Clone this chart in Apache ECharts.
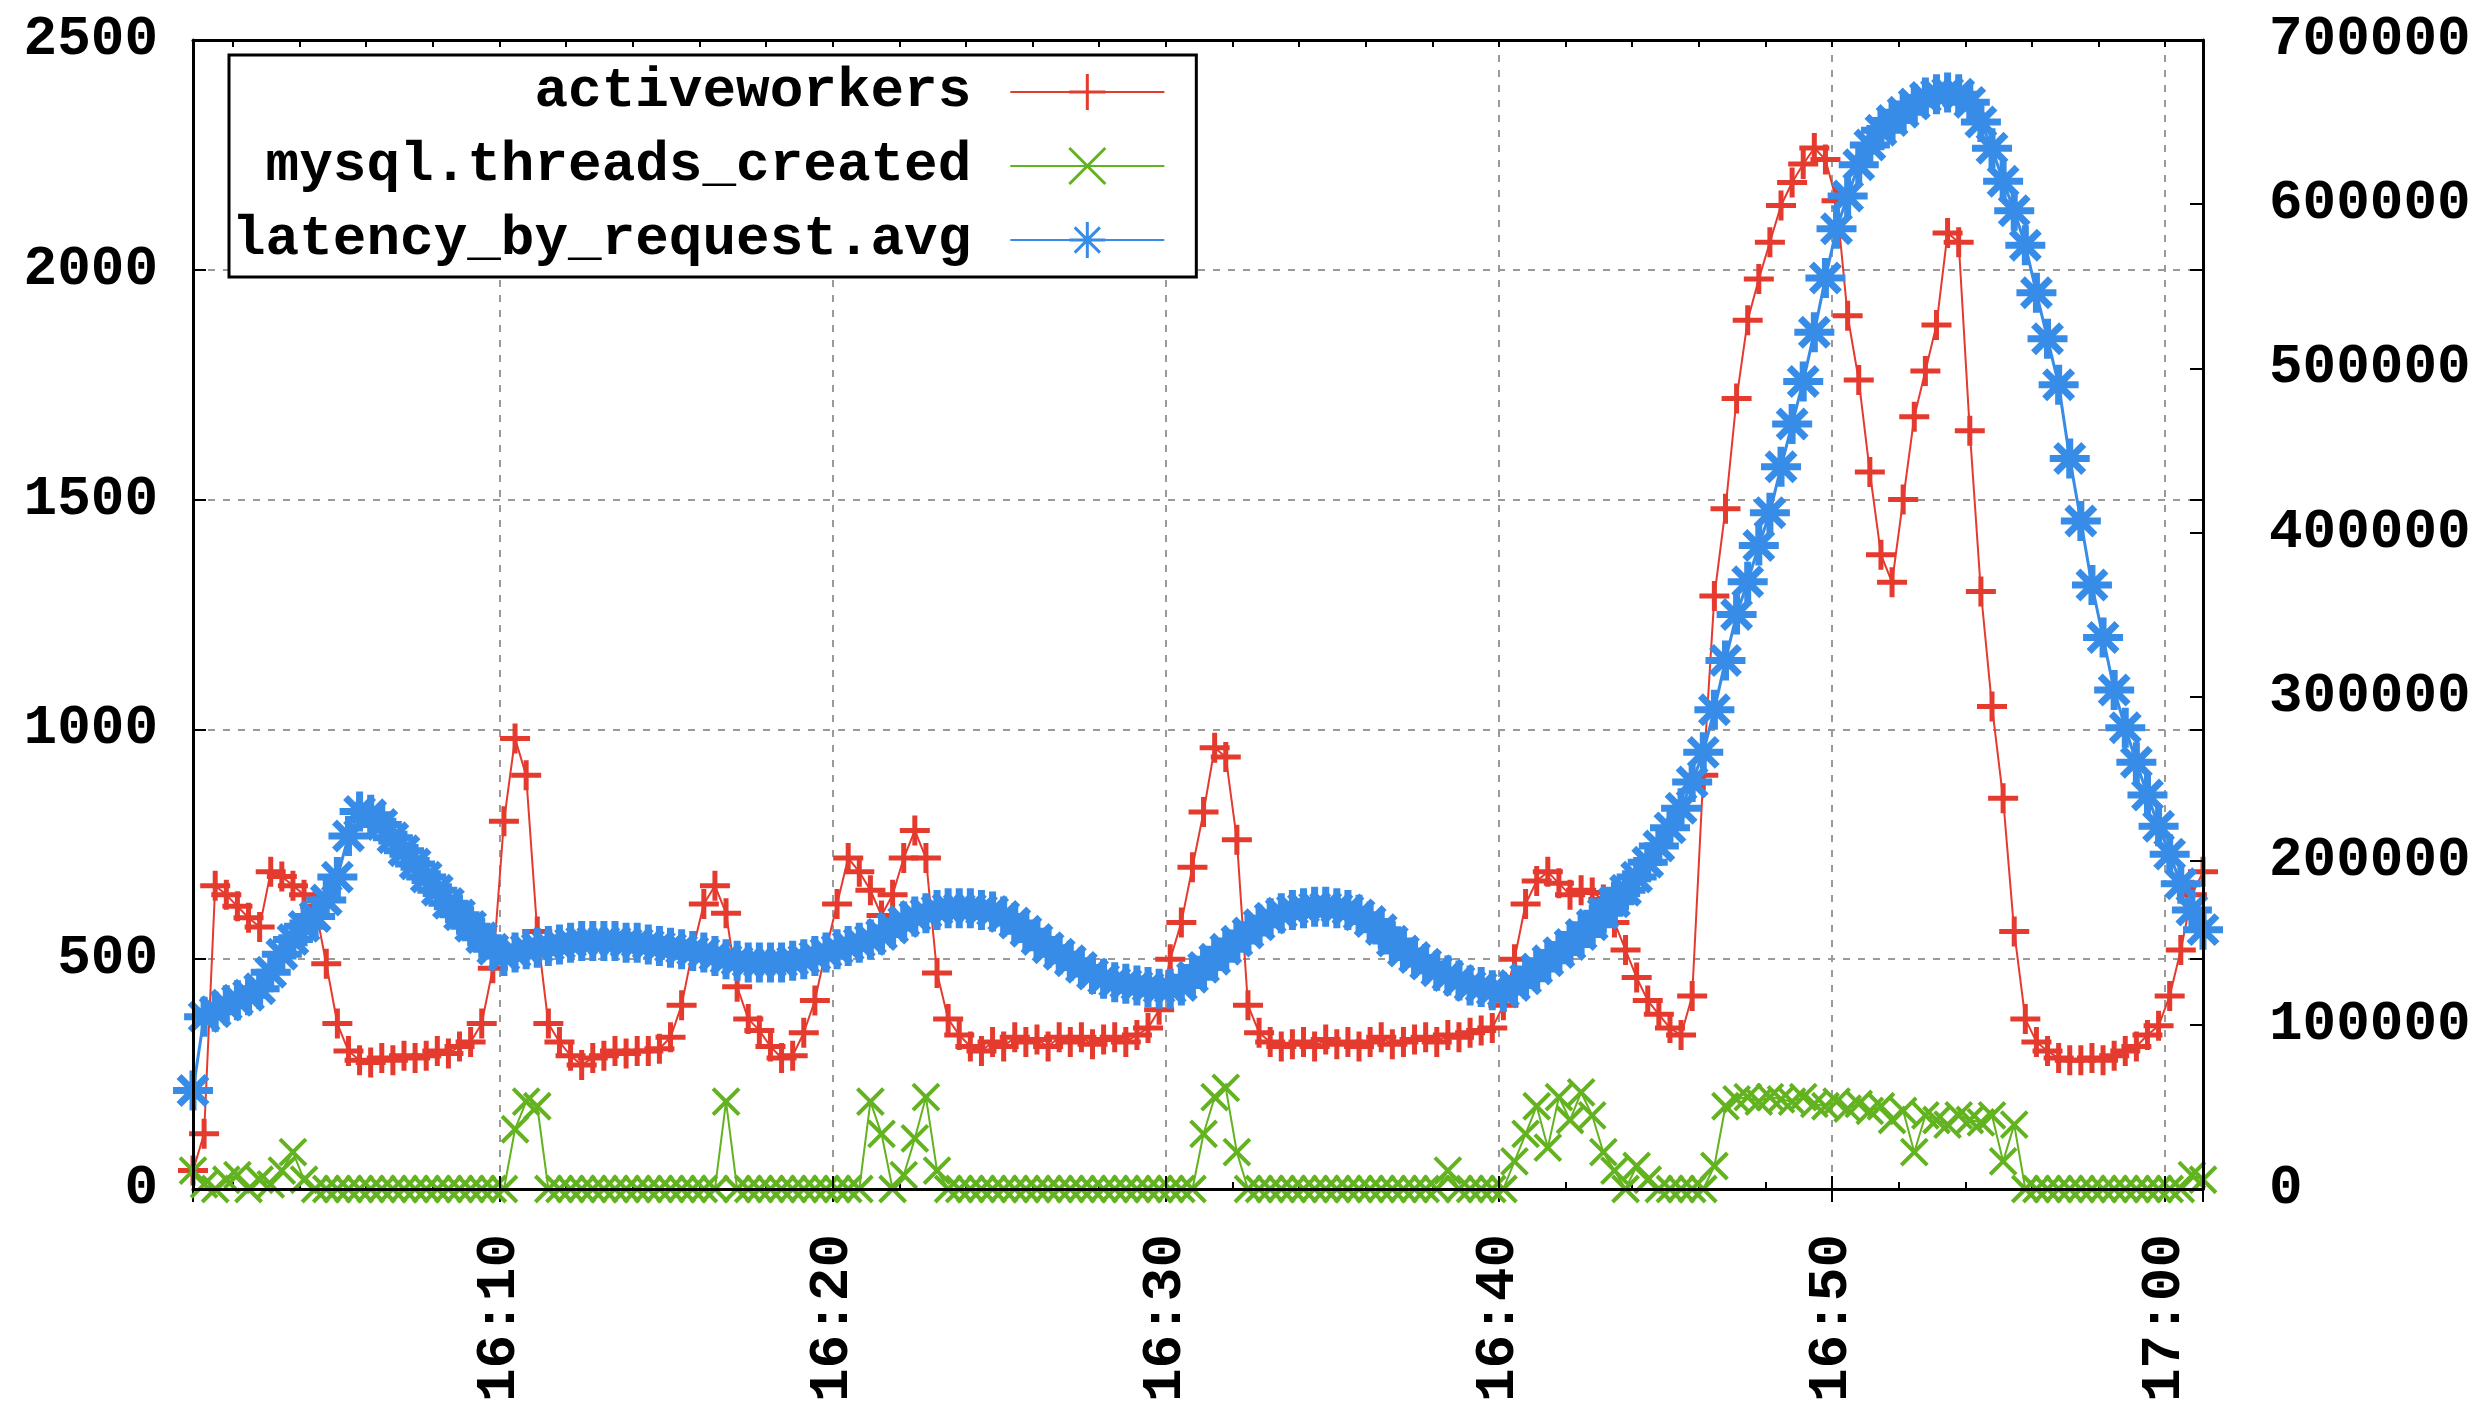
<!DOCTYPE html>
<html>
<head>
<meta charset="utf-8">
<title>activeworkers / mysql.threads_created / latency_by_request.avg</title>
<script src="https://cdn.jsdelivr.net/npm/echarts@6/dist/echarts.min.js"></script>
<style>
  html, body { margin: 0; padding: 0; background: #fff; }
  #main { width: 2476px; height: 1405px; }
</style>
</head>
<body>
<div id="main"></div>
<script>
// one sample every 20 s, first one at 16:00:48 (x is minutes after 16:00)
const startMinute = 0.8;
const stepMinutes = 1 / 3;

const xTicks = [10, 20, 30, 40, 50, 60];
const xTickLabels = ["16:10", "16:20", "16:30", "16:40", "16:50", "17:00"];

// left axis
const activeWorkers = [
  40, 120, 660, 640, 615, 590, 570, 690, 680, 660, 640, 615, 490, 360, 300,
  280, 275, 285, 280, 290, 285, 290, 300, 295, 310, 320, 360, 480, 800, 980,
  900, 560, 360, 320, 290, 270, 285, 290, 300, 295, 300, 300, 305, 330, 400,
  520, 620, 660, 600, 440, 370, 345, 310, 285, 290, 340, 410, 520, 620, 720,
  690, 650, 595, 640, 720, 780, 720, 470, 370, 335, 310, 300, 320, 310, 330,
  320, 325, 310, 330, 320, 330, 315, 325, 330, 320, 335, 350, 390, 500, 580,
  700, 820, 960, 940, 760, 400, 340, 320, 310, 315, 320, 310, 325, 315, 320,
  310, 320, 330, 315, 320, 325, 330, 320, 335, 330, 340, 345, 350, 400, 500,
  620, 670, 690, 665, 640, 650, 645, 630, 580, 520, 460, 410, 380, 350, 335,
  420, 900, 1290, 1480, 1720, 1890, 1980, 2060, 2140, 2190, 2230, 2265, 2240, 2150, 1900,
  1760, 1560, 1380, 1320, 1500, 1680, 1780, 1880, 2080, 2060, 1650, 1300, 1050, 850, 560,
  370, 320, 300, 285, 280, 280, 285, 280, 290, 300, 310, 335, 355, 420, 520,
  640, 690
];

// left axis
const threadsCreated = [
  40, 10, 0, 20, 30, 0, 20, 10, 40, 80, 20, 0, 0, 0, 0,
  0, 0, 0, 0, 0, 0, 0, 0, 0, 0, 0, 0, 0, 0, 130,
  190, 180, 0, 0, 0, 0, 0, 0, 0, 0, 0, 0, 0, 0, 0,
  0, 0, 0, 190, 0, 0, 0, 0, 0, 0, 0, 0, 0, 0, 0,
  0, 190, 120, 0, 30, 110, 200, 40, 0, 0, 0, 0, 0, 0, 0,
  0, 0, 0, 0, 0, 0, 0, 0, 0, 0, 0, 0, 0, 0, 0,
  0, 120, 200, 220, 80, 0, 0, 0, 0, 0, 0, 0, 0, 0, 0,
  0, 0, 0, 0, 0, 0, 0, 0, 40, 0, 0, 0, 0, 0, 60,
  120, 180, 90, 200, 150, 210, 160, 80, 40, 0, 50, 20, 0, 0, 0,
  0, 0, 50, 180, 195, 200, 190, 200, 195, 190, 200, 185, 180, 190, 175,
  185, 170, 180, 150, 170, 80, 160, 150, 140, 160, 150, 145, 160, 60, 140,
  0, 0, 0, 0, 0, 0, 0, 0, 0, 0, 0, 0, 0, 0, 0,
  30, 20
];

// right axis
const latencyAvg = [
  60000, 105000, 108000, 112000, 115000, 118000, 122000, 132000, 143000, 152000, 160000, 166000, 176000, 190000, 215000,
  230000, 228000, 222000, 214000, 206000, 198000, 190000, 182000, 174000, 167000, 160000, 153000, 146000, 142000, 144000,
  146000, 147000, 148000, 149000, 150000, 151000, 151000, 151000, 151000, 150000, 150000, 149000, 148000, 147000, 146000,
  145000, 144000, 142000, 140000, 139000, 138000, 138000, 138000, 138000, 139000, 140000, 142000, 144000, 146000, 148000,
  150000, 152000, 155000, 159000, 163000, 166000, 168000, 170000, 171000, 171000, 171000, 170000, 169000, 166000, 162000,
  157000, 152000, 147000, 143000, 139000, 135000, 131000, 128000, 126000, 125000, 124000, 123000, 122000, 122000, 124000,
  129000, 135000, 140000, 146000, 151000, 156000, 161000, 165000, 168000, 170000, 171000, 172000, 172000, 171000, 170000,
  167000, 163000, 158000, 151000, 145000, 141000, 137000, 133000, 130000, 127000, 124000, 123000, 121000, 120000, 124000,
  128000, 134000, 139000, 144000, 149000, 155000, 161000, 168000, 175000, 182000, 190000, 199000, 209000, 220000, 232000,
  248000, 266000, 292000, 322000, 350000, 370000, 392000, 412000, 440000, 466000, 492000, 522000, 555000, 585000, 605000,
  624000, 636000, 645000, 651000, 656000, 661000, 665000, 667000, 668000, 667000, 662000, 650000, 634000, 614000, 596000,
  575000, 546000, 518000, 490000, 445000, 407000, 368000, 336000, 304000, 281000, 260000, 240000, 221000, 204000, 186000,
  170000, 158000
];

const FONT = "'Liberation Mono', 'DejaVu Sans Mono', monospace";
const RED = "#e53a2e";
const GREEN = "#62b31f";
const BLUE = "#378ce8";

const PLUS = "path://M0,5L10,5M5,0L5,10";
const CROSS = "path://M0,0L10,10M10,0L0,10";
const STAR = "path://M0,5L10,5M5,0L5,10M1.5,1.5L8.5,8.5M8.5,1.5L1.5,8.5";

function pairs(values) {
  return values.map((v, i) => [startMinute + i * stepMinutes, v]);
}

const xMin = startMinute;
const xMax = startMinute + (activeWorkers.length - 1) * stepMinutes;

const labelFont = {
  fontFamily: FONT,
  fontWeight: "bold",
  fontSize: 56,
  color: "#000",
};
const blackLine = { color: "#000", width: 3 };
const tickLine = { color: "#000", width: 2 };
const gridDash = { color: "#9a9a9a", width: 2, type: [7, 8] };

const myChart = echarts.init(document.getElementById("main"));
myChart.setOption({
  animation: false,
  backgroundColor: "#fff",
  grid: { left: 193, right: 273, top: 40, bottom: 210 },
  legend: {
    orient: "vertical",
    left: 229,
    top: 55,
    align: "right",
    itemWidth: 154,
    itemHeight: 45,
    itemGap: 18,
    padding: [9, 31, 9, 3],
    backgroundColor: "#fff",
    borderColor: "#000",
    borderWidth: 3,
    borderRadius: 0,
    selectedMode: false,
    itemStyle: { borderWidth: 3 },
    textStyle: Object.assign({}, labelFont, { lineHeight: 45, padding: [0, 34, 0, 0] }),
    data: ["activeworkers", "mysql.threads_created", "latency_by_request.avg"],
  },
  xAxis: [
    {
      // bottom: labels, major ticks, axis line
      type: "value",
      position: "bottom",
      min: xMin,
      max: xMax,
      minInterval: 10,
      maxInterval: 10,
      z: 5,
      axisLine: { show: true, lineStyle: blackLine },
      axisTick: { show: true, inside: true, length: 13, lineStyle: tickLine },
      axisLabel: Object.assign({}, labelFont, {
        rotate: 90,
        margin: 45,
        showMinLabel: false,
        showMaxLabel: false,
        formatter: function (v) {
          const i = xTicks.indexOf(Math.round(v * 1000) / 1000);
          return i >= 0 ? xTickLabels[i] : "";
        },
      }),
      splitLine: { show: false },
    },
    {
      // bottom minor ticks, 2 min
      type: "value",
      position: "bottom",
      min: xMin,
      max: xMax,
      minInterval: 2,
      maxInterval: 2,
      axisLine: { show: false },
      axisTick: { show: true, inside: true, length: 7, lineStyle: tickLine },
      axisLabel: { show: false },
      splitLine: { show: false },
    },
    {
      // top mirror: major ticks + vertical dashed grid
      type: "value",
      position: "top",
      min: xMin,
      max: xMax,
      minInterval: 10,
      maxInterval: 10,
      z: 0,
      axisLine: { show: false },
      axisTick: { show: true, inside: true, length: 13, lineStyle: tickLine },
      axisLabel: { show: false },
      splitLine: { show: true, lineStyle: gridDash },
    },
    {
      // top mirror minor ticks + border line
      type: "value",
      position: "top",
      min: xMin,
      max: xMax,
      minInterval: 2,
      maxInterval: 2,
      z: 5,
      axisLine: { show: true, lineStyle: blackLine },
      axisTick: { show: true, inside: true, length: 7, lineStyle: tickLine },
      axisLabel: { show: false },
      splitLine: { show: false },
    },
  ],
  yAxis: [
    {
      type: "value",
      position: "left",
      min: 0,
      max: 2500,
      interval: 500,
      z: 5,
      axisLine: { show: true, lineStyle: blackLine },
      axisTick: { show: true, inside: true, length: 13, lineStyle: tickLine },
      axisLabel: Object.assign({}, labelFont, {
        margin: 35,
        formatter: (v) => String(v),
      }),
      splitLine: { show: false },
    },
    {
      type: "value",
      position: "right",
      min: 0,
      max: 700000,
      interval: 100000,
      z: 5,
      axisLine: { show: true, lineStyle: blackLine },
      axisTick: { show: true, inside: true, length: 13, lineStyle: tickLine },
      axisLabel: Object.assign({}, labelFont, {
        margin: 66,
        formatter: (v) => String(v),
      }),
      splitLine: { show: false },
    },
    {
      // mirror of the left axis on the right border + horizontal dashed grid
      type: "value",
      position: "right",
      min: 0,
      max: 2500,
      interval: 500,
      z: 0,
      axisLine: { show: false },
      axisTick: { show: true, inside: true, length: 13, lineStyle: tickLine },
      axisLabel: { show: false },
      splitLine: { show: true, lineStyle: gridDash },
    },
  ],
  series: [
    {
      name: "activeworkers",
      type: "line",
      xAxisIndex: 0,
      yAxisIndex: 0,
      data: pairs(activeWorkers),
      symbol: PLUS,
      symbolSize: 30,
      showAllSymbol: true,
      clip: false,
      lineStyle: { color: RED, width: 2 },
      itemStyle: { color: RED, borderColor: RED, borderWidth: 5 },
      emphasis: { disabled: true },
    },
    {
      name: "mysql.threads_created",
      type: "line",
      xAxisIndex: 0,
      yAxisIndex: 0,
      data: pairs(threadsCreated),
      symbol: CROSS,
      symbolSize: 26,
      showAllSymbol: true,
      clip: false,
      lineStyle: { color: GREEN, width: 2 },
      itemStyle: { color: GREEN, borderColor: GREEN, borderWidth: 4 },
      emphasis: { disabled: true },
    },
    {
      name: "latency_by_request.avg",
      type: "line",
      xAxisIndex: 0,
      yAxisIndex: 1,
      data: pairs(latencyAvg),
      symbol: STAR,
      symbolSize: 40,
      showAllSymbol: true,
      clip: false,
      lineStyle: { color: BLUE, width: 3 },
      itemStyle: { color: BLUE, borderColor: BLUE, borderWidth: 7 },
      emphasis: { disabled: true },
    },
  ],
});

window.addEventListener("resize", function () {
  myChart.resize();
});
</script>
</body>
</html>
